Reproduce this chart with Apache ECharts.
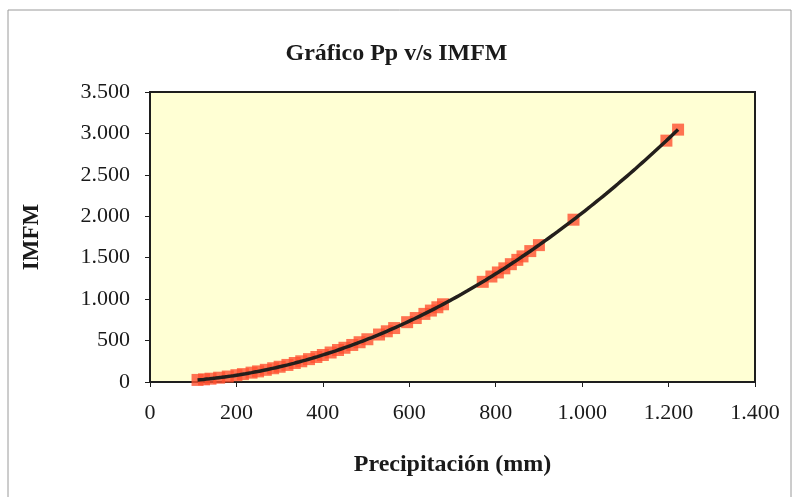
<!DOCTYPE html>
<html>
<head>
<meta charset="utf-8">
<script src="https://cdn.jsdelivr.net/npm/echarts@6/dist/echarts.min.js"></script>
<style>
  html, body { margin: 0; padding: 0; background: #ffffff; }
  #chart { width: 793px; height: 497px; }
</style>
</head>
<body>
<div id="chart"></div>
<script>
// Annual precipitation (mm) and the matching IMFM index
const precipitacion = [
  110, 125, 140, 160, 180, 200, 215, 235, 250, 268, 285, 300, 318, 335, 350,
  368, 385, 400, 418, 435, 450, 468, 485, 503, 530, 548, 565, 595, 615, 635,
  650, 665, 678, 770, 790, 805, 820, 835, 850, 862, 880, 900, 980, 1195, 1222
];
const imfm = [
  25, 32, 40, 52, 66, 82, 95, 113, 128, 147, 166, 184, 206, 229, 250,
  276, 302, 326, 356, 386, 413, 447, 480, 516, 573, 612, 651, 722, 772, 822,
  862, 902, 938, 1209, 1273, 1322, 1372, 1422, 1474, 1516, 1580, 1652, 1959, 2913, 3046
];

// Axis tick values
const xTicks = [0, 200, 400, 600, 800, 1000, 1200, 1400];
const yTicks = [0, 500, 1000, 1500, 2000, 2500, 3000, 3500];

const titleText = 'Gráfico Pp v/s IMFM';
const xName = 'Precipitación (mm)';
const yName = 'IMFM';

// Thousands separator with a period
function fmt(v) {
  return String(v).replace(/\B(?=(\d{3})+(?!\d))/g, '.');
}

// Second-order polynomial least-squares trend line through the points
function quadFit(xs, ys) {
  let n = xs.length, s = [0, 0, 0, 0, 0], t = [0, 0, 0];
  for (let i = 0; i < n; i++) {
    let p = 1;
    for (let k = 0; k < 5; k++) { s[k] += p; if (k < 3) t[k] += p * ys[i]; p *= xs[i]; }
  }
  const A = [[s[0], s[1], s[2], t[0]], [s[1], s[2], s[3], t[1]], [s[2], s[3], s[4], t[2]]];
  for (let c = 0; c < 3; c++) {
    for (let r = c + 1; r < 3; r++) {
      const f = A[r][c] / A[c][c];
      for (let k = c; k < 4; k++) A[r][k] -= f * A[c][k];
    }
  }
  const b = [0, 0, 0];
  for (let r = 2; r >= 0; r--) {
    let v = A[r][3];
    for (let k = r + 1; k < 3; k++) v -= A[r][k] * b[k];
    b[r] = v / A[r][r];
  }
  return b;
}
const coef = quadFit(precipitacion, imfm);
const xMin = Math.min(...precipitacion), xMax = Math.max(...precipitacion);
const trend = [];
for (let i = 0; i <= 80; i++) {
  const x = xMin + (xMax - xMin) * i / 80;
  trend.push([x, coef[0] + coef[1] * x + coef[2] * x * x]);
}

const points = precipitacion.map((x, i) => [x, imfm[i]]);

const serif = '"Liberation Serif", "Times New Roman", serif';
const chart = echarts.init(document.getElementById('chart'), null, { renderer: 'canvas' });
chart.setOption({
  backgroundColor: '#ffffff',
  animation: false,
  title: {
    text: titleText,
    left: 'center',
    top: 37,
    textStyle: { fontFamily: serif, fontSize: 24, fontWeight: 'bold', color: '#1a1a1a' }
  },
  graphic: [{
    type: 'rect',
    shape: { x: 8, y: 10, width: 783, height: 500 },
    style: { fill: 'none', stroke: '#9a9a9a', lineWidth: 1 },
    silent: true
  }],
  grid: {
    left: 150, right: 38, top: 92, bottom: 115,
    show: true,
    backgroundColor: '#FFFFD4',
    borderColor: '#1e1e1e',
    borderWidth: 2
  },
  xAxis: {
    type: 'value',
    min: xTicks[0], max: xTicks[xTicks.length - 1], interval: 200,
    name: xName,
    nameLocation: 'middle',
    nameGap: 71,
    nameTextStyle: { fontFamily: serif, fontSize: 24, fontWeight: 'bold', color: '#1a1a1a' },
    axisLine: { show: true, lineStyle: { color: '#1e1e1e', width: 2 } },
    axisTick: { show: true, inside: false, length: 5, lineStyle: { color: '#1e1e1e', width: 1 } },
    axisLabel: { margin: 20, fontFamily: serif, fontSize: 22, color: '#1a1a1a', formatter: fmt },
    splitLine: { show: false }
  },
  yAxis: {
    type: 'value',
    min: yTicks[0], max: yTicks[yTicks.length - 1], interval: 500,
    name: yName,
    nameLocation: 'middle',
    nameGap: 106,
    nameRotate: 90,
    nameTextStyle: { fontFamily: serif, fontSize: 23, fontWeight: 'bold', color: '#1a1a1a' },
    axisLine: { show: true, lineStyle: { color: '#1e1e1e', width: 2 } },
    axisTick: { show: true, inside: false, length: 5, lineStyle: { color: '#1e1e1e', width: 1 } },
    axisLabel: { margin: 20, fontFamily: serif, fontSize: 22, color: '#1a1a1a', formatter: fmt },
    splitLine: { show: false }
  },
  series: [
    {
      name: 'IMFM',
      type: 'scatter',
      data: points,
      symbol: 'rect',
      symbolSize: 12,
      itemStyle: { color: '#FF5030' },
      z: 2
    },
    {
      name: 'Tendencia',
      type: 'line',
      data: trend,
      showSymbol: false,
      symbol: 'none',
      smooth: true,
      lineStyle: { color: '#231f1c', width: 3.5 },
      z: 3
    }
  ]
});
</script>
</body>
</html>
